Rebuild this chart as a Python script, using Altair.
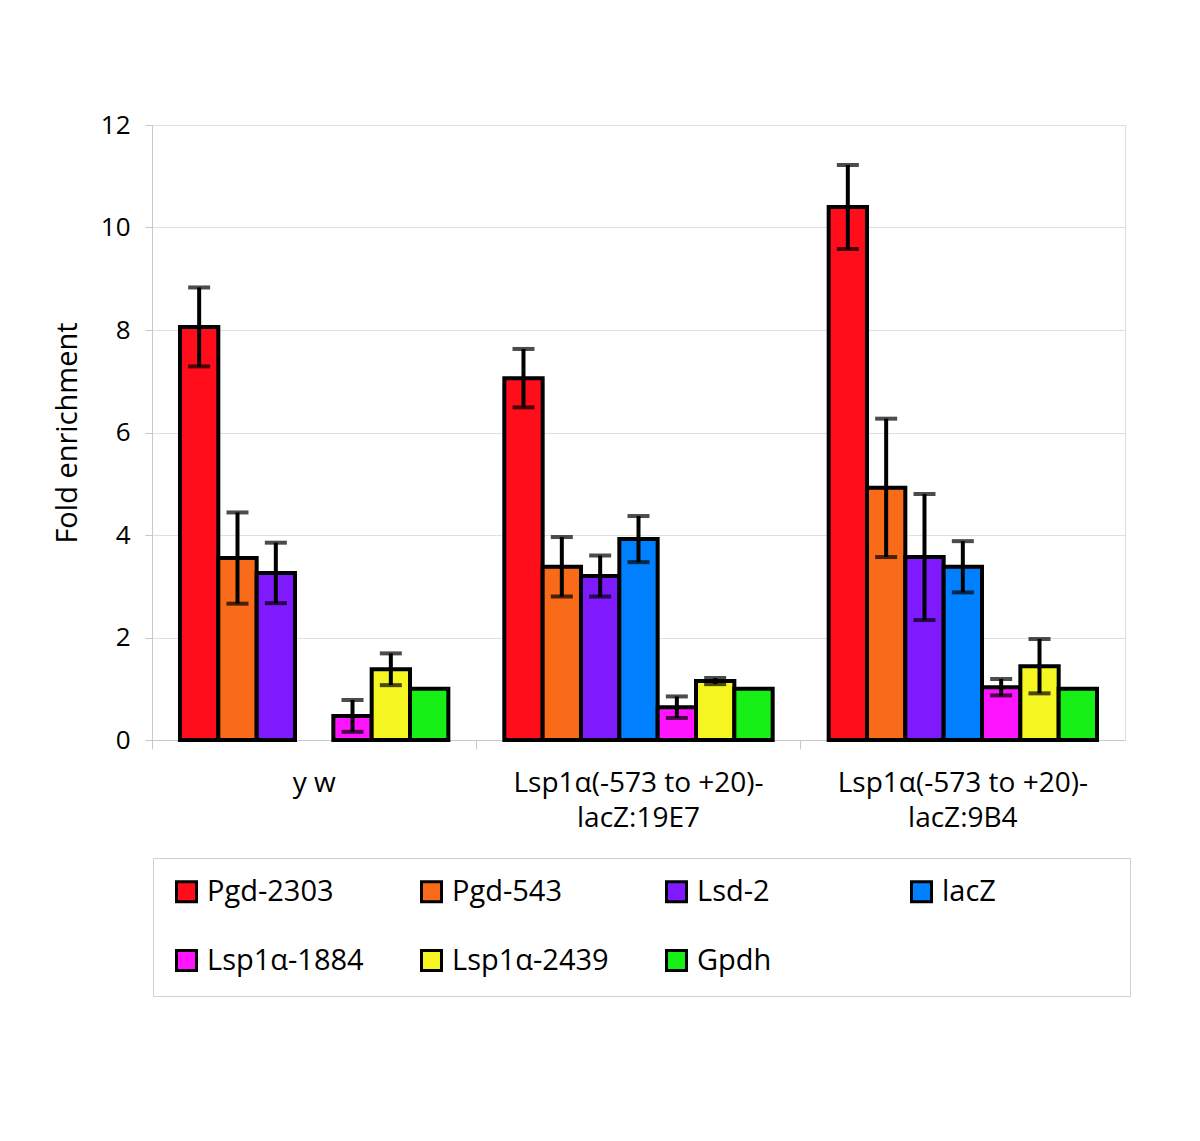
import altair as alt
import pandas as pd

groups = ["y w", "Lsp1α(-573 to +20)-\nlacZ:19E7", "Lsp1α(-573 to +20)-\nlacZ:9B4"]
series = ["Pgd-2303", "Pgd-543", "Lsd-2", "lacZ", "Lsp1α-1884", "Lsp1α-2439", "Gpdh"]
colors = ["#FF0D1A", "#F96B18", "#7F1AFF", "#0080FF", "#FF14FF", "#F5F522", "#16F016"]

yw = [8.06, 3.55, 3.26, None, 0.47, 1.38, 1.0]
yw_err = [0.77, 0.89, 0.59, None, 0.31, 0.31, 0]
g19e7 = [7.06, 3.38, 3.20, 3.92, 0.64, 1.15, 1.0]
g19e7_err = [0.57, 0.58, 0.40, 0.45, 0.21, 0.06, 0]
g9b4 = [10.40, 4.92, 3.57, 3.38, 1.03, 1.44, 1.0]
g9b4_err = [0.82, 1.35, 1.23, 0.50, 0.16, 0.53, 0]

rows = []
for g, vals, errs in zip(groups, [yw, g19e7, g9b4], [yw_err, g19e7_err, g9b4_err]):
    for s, v, e in zip(series, vals, errs):
        if v is None:
            continue
        rows.append({"group": g, "series": s, "value": v, "err": e,
                     "lo": v - e, "hi": v + e})
df = pd.DataFrame(rows)

FONT = "Open Sans"

x = alt.X("group:N", sort=groups, title=None,
          scale=alt.Scale(domain=groups, paddingInner=0, paddingOuter=0),
          axis=alt.Axis(labelExpr="split(datum.label, '\\n')", labelAngle=0,
                        labelFontSize=28, labelFont=FONT, labelColor="black",
                        labelPadding=20, labelLineHeight=35, bandPosition=0,
                        tickSize=9, tickColor="#c8c8c8", domainColor="#c8c8c8",
                        labelLimit=400))
xo = alt.XOffset("series:N", sort=series,
                 scale=alt.Scale(domain=series, paddingInner=0, paddingOuter=0.73))

bars = alt.Chart(df).mark_bar(stroke="black", strokeWidth=4).encode(
    x=x,
    xOffset=xo,
    y=alt.Y("value:Q", title="Fold enrichment",
            scale=alt.Scale(domain=[0, 12]),
            axis=alt.Axis(values=[0, 2, 4, 6, 8, 10, 12], labelFontSize=26,
                          labelFont=FONT, labelColor="black", labelPadding=15,
                          tickSize=7, tickColor="#c8c8c8", domainColor="#c8c8c8",
                          gridColor="#e0e0e0", titleFontSize=29, titleFont=FONT,
                          titleFontWeight="normal", titleColor="black",
                          titlePadding=18)),
    color=alt.Color("series:N", sort=series,
                    scale=alt.Scale(domain=series, range=colors),
                    legend=alt.Legend(title="MMMM", titleOrient="right",
                                      titleFontSize=29, titleFont=FONT,
                                      titleColor="white", titleOpacity=0,
                                      titlePadding=5,
                                      orient="none", legendX=1, legendY=733,
                                      direction="horizontal", columns=4,
                                      columnPadding=51, rowPadding=36, padding=19,
                                      strokeColor="#d0d0d0", gridAlign="all",
                                      symbolType="square", symbolSize=400,
                                      symbolStrokeColor="black", symbolStrokeWidth=3,
                                      labelFontSize=29, labelFont=FONT,
                                      labelColor="black", labelOffset=6,
                                      labelLimit=400)),
)

edf = df[df["err"] > 0]
rule = alt.Chart(edf).mark_rule(color="black", strokeWidth=4).encode(
    x=x, xOffset=xo, y="lo:Q", y2="hi:Q")
cap_lo = alt.Chart(edf).mark_tick(color="black", thickness=4, size=22).encode(
    x=x, xOffset=xo, y="lo:Q")
cap_hi = alt.Chart(edf).mark_tick(color="black", thickness=4, size=22).encode(
    x=x, xOffset=xo, y="hi:Q")

chart = alt.layer(bars, rule, cap_lo, cap_hi).properties(
    width=973, height=615,
    autosize=alt.AutoSizeParams(type="none"),
    padding={"left": 144, "top": 117, "right": 60, "bottom": 280},
).configure_view(stroke="#d0d0d0").configure(background="white")

chart.save("out.html", embed_options={"renderer": "svg", "actions": False})
